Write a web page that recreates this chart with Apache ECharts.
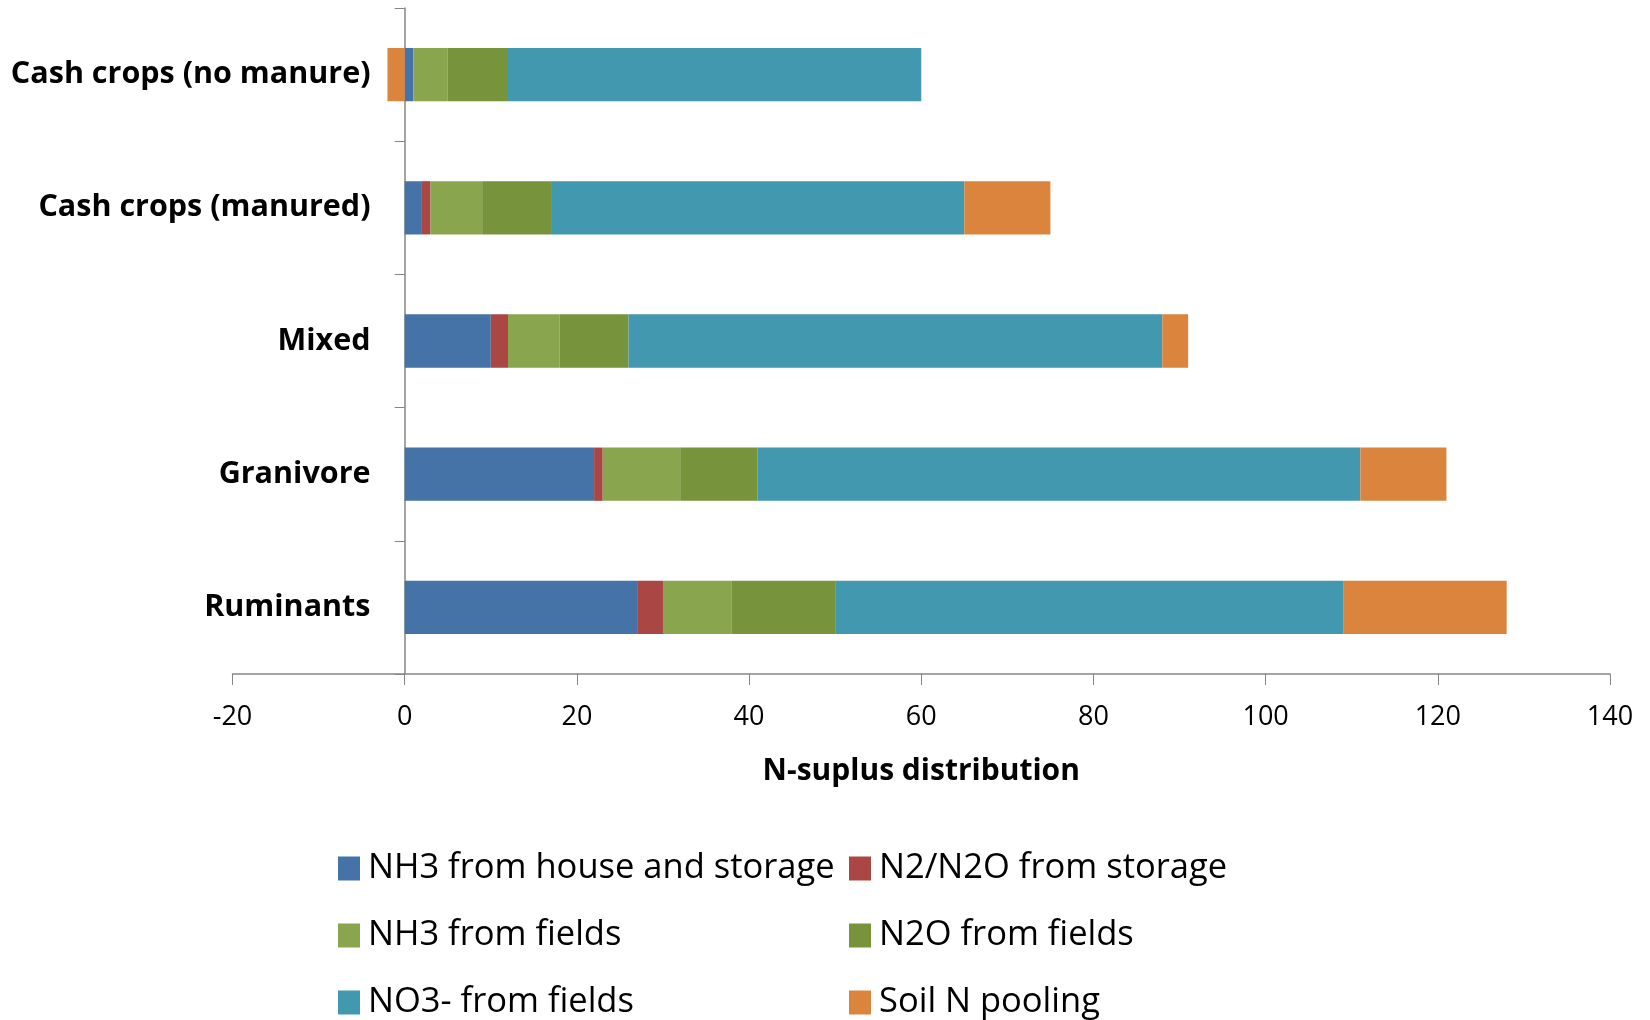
<!DOCTYPE html>
<html>
<head>
<meta charset="utf-8">
<title>N-suplus distribution</title>
<script src="https://cdn.jsdelivr.net/npm/echarts@6/dist/echarts.min.js"></script>
<style>
  html, body { margin: 0; padding: 0; background: #ffffff; }
  #chart { width: 1650px; height: 1020px; }
</style>
</head>
<body>
<div id="chart"></div>
<script>
// Farm types, listed bottom to top as the category axis draws them
const farmTypes = ['Ruminants', 'Granivore', 'Mixed', 'Cash crops (manured)', 'Cash crops (no manure)'];

// N-surplus components per farm type
const nh3HouseStorage = [27, 22, 10, 2, 1];
const n2n2oStorage    = [3, 1, 2, 1, 0];
const nh3Fields       = [8, 9, 6, 6, 4];
const n2oFields       = [12, 9, 8, 8, 7];
const no3Fields       = [59, 70, 62, 48, 48];
const soilNPooling    = [19, 10, 3, 10, -2];

const xTicks = { min: -20, max: 140, interval: 20 };

const seriesDefs = [
  { name: 'NH3 from house and storage', data: nh3HouseStorage, color: '#4572A7' },
  { name: 'N2/N2O from storage',        data: n2n2oStorage,    color: '#AA4643' },
  { name: 'NH3 from fields',            data: nh3Fields,       color: '#89A54E' },
  { name: 'N2O from fields',            data: n2oFields,       color: '#77933C' },
  { name: 'NO3- from fields',           data: no3Fields,       color: '#4198AF' },
  { name: 'Soil N pooling',             data: soilNPooling,    color: '#DB843D' }
];

const FONT = '"Open Sans", "Noto Sans", sans-serif';

const chart = echarts.init(document.getElementById('chart'), null, { renderer: 'canvas' });

const legendText = { fontFamily: FONT, fontSize: 34.5, color: '#000', padding: [0, 0, 0, 3] };

// Two-column legend: series i goes to column i % 2, row floor(i / 2)
const legendCols = [333, 844];
const legendRows = [846, 913, 980];
const legends = seriesDefs.map((s, i) => ({
  orient: 'horizontal',
  left: legendCols[i % 2],
  top: legendRows[Math.floor(i / 2)],
  itemWidth: 22,
  itemHeight: 24,
  itemGap: 0,
  icon: 'rect',
  textStyle: legendText,
  data: [s.name]
}));

chart.setOption({
  animation: false,
  backgroundColor: '#ffffff',
  grid: { left: 232.5, right: 40, top: 8, bottom: 346, containLabel: false, outerBoundsMode: 'none' },
  xAxis: {
    type: 'value',
    min: xTicks.min,
    max: xTicks.max,
    interval: xTicks.interval,
    name: 'N-suplus distribution',
    nameLocation: 'middle',
    nameGap: 82,
    nameTextStyle: { fontFamily: FONT, fontSize: 30, fontWeight: 'bold', color: '#000' },
    axisLine: { show: true, lineStyle: { color: '#868686', width: 1.5 } },
    axisTick: { show: true, length: 11, lineStyle: { color: '#868686' } },
    axisLabel: { fontFamily: FONT, fontSize: 27, color: '#000', margin: 30 },
    splitLine: { show: false }
  },
  yAxis: {
    type: 'category',
    data: farmTypes,
    axisLine: { show: true, onZero: true, lineStyle: { color: '#868686', width: 1.5 } },
    axisTick: { show: true, length: 10, lineStyle: { color: '#868686' } },
    // labels sit beside the zero line, which lies inside the grid
    axisLabel: {
      fontFamily: FONT, fontSize: 30.5, fontWeight: 'bold', color: '#000',
      margin: -138, padding: [6, 0, 0, 0]
    },
    splitLine: { show: false }
  },
  legend: legends,
  series: seriesDefs.map(s => ({
    name: s.name,
    type: 'bar',
    stack: 'total',
    barCategoryGap: '60%',
    data: s.data,
    itemStyle: { color: s.color }
  }))
});
</script>
</body>
</html>
